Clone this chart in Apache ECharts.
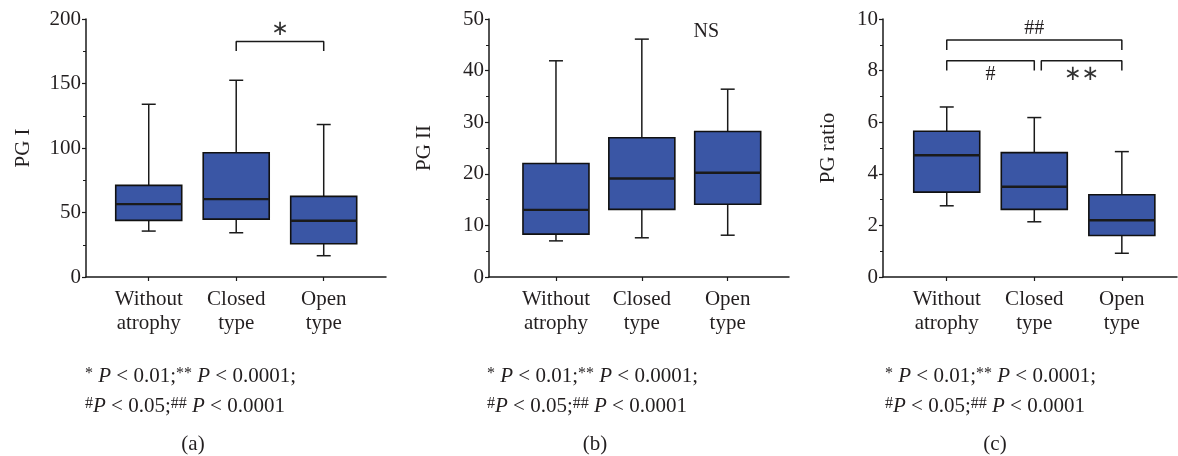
<!DOCTYPE html>
<html>
<head>
<meta charset="utf-8">
<script src="https://cdn.jsdelivr.net/npm/echarts@6/dist/echarts.min.js"></script>
<style>html,body{margin:0;padding:0;background:#fff}#c{width:1178px;height:456px}</style>
</head>
<body>
<div id="c"></div>
<script>
// ---- data ----
const categories = ['Without\natrophy', 'Closed\ntype', 'Open\ntype'];
const catPos = [1, 2, 3];
// [min, Q1, median, Q3, max]
const pgI = [[35.6, 43.9, 56.5, 71.0, 133.9], [34.3, 44.9, 60.4, 96.3, 152.5], [16.5, 25.8, 43.6, 62.5, 118.2]];
const pgII = [[7.0, 8.3, 13.0, 22.0, 41.9], [7.6, 13.1, 19.1, 27.0, 46.1], [8.1, 14.1, 20.2, 28.2, 36.4]];
const pgRatio = [[2.76, 3.29, 4.72, 5.65, 6.59], [2.14, 2.62, 3.50, 4.82, 6.18], [0.92, 1.61, 2.20, 3.19, 4.86]];
const yTicksA = {min: 0, max: 200, interval: 50};
const yTicksB = {min: 0, max: 50, interval: 10};
const yTicksC = {min: 0, max: 10, interval: 2};
// significance brackets: [xStart, xEnd, yTop, yLegBottom]
const bracketsA = [[2, 3, 182.6, 175.2]];
const bracketsC = [[1, 3, 9.19, 8.80], [1, 2, 8.38, 8.00], [2.08, 3, 8.38, 8.00]];
// annotation texts: [x, y, text]
const notesA = [[2.5, 191.5, '∗']];
const notesB = [[2.75, 47.5, 'NS']];
const notesC = [[2.0, 9.61, '##'], [1.5, 7.83, '#'], [2.54, 7.83, '∗∗']];
const panelLetters = ['(a)', '(b)', '(c)'];

// ---- styles ----
const FONT = 'Liberation Serif';
const TXT = '#231f20';
const BOX_FILL = '#3a56a5';
const BOX_W = 66, CAP_W = 14;

const grids = [
  {left: 86, top: 19, width: 300, height: 258},
  {left: 489, top: 19, width: 300, height: 258},
  {left: 883, top: 19, width: 294, height: 258}
];
const xRanges = [[0.283, 3.712], [0.22, 3.714], [0.272, 3.63]];
const yCfg = [yTicksA, yTicksB, yTicksC];
const yNames = ['PG I', 'PG II', 'PG ratio'];
const nameGaps = [52, 54, 44];
const datasets = [pgI, pgII, pgRatio];

function boxRender(params, api) {
  const x = api.value(0);
  const c = [1, 2, 3, 4, 5].map(i => api.coord([x, api.value(i)]));
  const cx = c[0][0];
  const ln = (x1, y1, x2, y2, w) => ({type: 'line', shape: {x1, y1, x2, y2}, style: {stroke: '#1a1a1a', lineWidth: w || 1.5}});
  return {
    type: 'group',
    children: [
      ln(cx, c[4][1], cx, c[3][1]),
      ln(cx, c[0][1], cx, c[1][1]),
      ln(cx - CAP_W / 2, c[4][1], cx + CAP_W / 2, c[4][1]),
      ln(cx - CAP_W / 2, c[0][1], cx + CAP_W / 2, c[0][1]),
      {type: 'rect', shape: {x: cx - BOX_W / 2, y: c[3][1], width: BOX_W, height: c[1][1] - c[3][1]},
        style: {fill: BOX_FILL, stroke: '#111', lineWidth: 1.6}},
      ln(cx - BOX_W / 2, c[2][1], cx + BOX_W / 2, c[2][1], 2.4)
    ]
  };
}

const xAxis = [], yAxis = [], series = [];
grids.forEach((g, i) => {
  xAxis.push({
    gridIndex: i, type: 'value', min: xRanges[i][0], max: xRanges[i][1],
    axisLine: {show: true, lineStyle: {color: '#1a1a1a', width: 1.5}},
    axisTick: {show: true, customValues: catPos, length: 4, lineStyle: {color: '#1a1a1a', width: 1.2}},
    axisLabel: {show: true, customValues: catPos, formatter: v => categories[Math.round(v) - 1] || '',
      fontFamily: FONT, fontSize: 21, color: TXT, lineHeight: 24, margin: 10},
    splitLine: {show: false}
  });
  yAxis.push({
    gridIndex: i, type: 'value', min: yCfg[i].min, max: yCfg[i].max, interval: yCfg[i].interval,
    name: yNames[i], nameLocation: 'middle', nameGap: nameGaps[i],
    nameTextStyle: {fontFamily: FONT, fontSize: 21, color: TXT},
    axisLine: {show: true, lineStyle: {color: '#1a1a1a', width: 1.5}},
    axisTick: {show: true, length: 4, lineStyle: {color: '#1a1a1a', width: 1.2}},
    minorTick: {show: true, splitNumber: 2, length: 3, lineStyle: {color: '#1a1a1a', width: 1}},
    axisLabel: {fontFamily: FONT, fontSize: 21, color: TXT, margin: 5},
    splitLine: {show: false}
  });
  series.push({
    type: 'custom', xAxisIndex: i, yAxisIndex: i, renderItem: boxRender,
    encode: {x: 0, y: [1, 2, 3, 4, 5]},
    data: datasets[i].map((d, k) => [catPos[k]].concat(d)), silent: true
  });
});

function addBrackets(list, gi) {
  list.forEach(b => {
    series.push({
      type: 'line', xAxisIndex: gi, yAxisIndex: gi, symbol: 'none', silent: true, animation: false,
      lineStyle: {color: '#1a1a1a', width: 1.5},
      data: [[b[0], b[3]], [b[0], b[2]], [b[1], b[2]], [b[1], b[3]]]
    });
  });
}
addBrackets(bracketsA, 0);
addBrackets(bracketsC, 2);

function addNotes(list, gi) {
  const texts = list.map(n => n[2]);
  series.push({
    type: 'custom', xAxisIndex: gi, yAxisIndex: gi, silent: true,
    renderItem: (params, api) => {
      const p = api.coord([api.value(0), api.value(1)]);
      const t = texts[params.dataIndex];
      const star = t.indexOf('∗') >= 0;
      return {type: 'text', x: p[0], y: p[1],
        style: {text: t, fontFamily: star ? 'DejaVu Sans' : FONT,
          fontSize: star ? 21 : 20, fill: star ? '#333' : TXT, align: 'center', verticalAlign: 'middle'}};
    },
    data: list.map(n => [n[0], n[1]])
  });
}
addNotes(notesA, 0);
addNotes(notesB, 1);
addNotes(notesC, 2);

// footnotes and panel letters
const rich = {
  n: {fontFamily: FONT, fontSize: 21, fill: TXT},
  i: {fontFamily: FONT, fontSize: 21, fontStyle: 'italic', fill: TXT},
  s: {fontFamily: FONT, fontSize: 16, fill: TXT, verticalAlign: 'top'}
};
const footLeft = [85, 487, 885];
const letterX = [193, 595, 995];
const graphic = [];
footLeft.forEach((fx, i) => {
  graphic.push({type: 'text', x: fx, y: 376, style: {text: '{s|*}{n| }{i|P}{n| < 0.01;}{s|**}{n| }{i|P}{n| < 0.0001;}', rich, verticalAlign: 'middle', align: 'left'}});
  graphic.push({type: 'text', x: fx, y: 406, style: {text: '{s|#}{i|P}{n| < 0.05;}{s|##}{n| }{i|P}{n| < 0.0001}', rich, verticalAlign: 'middle', align: 'left'}});
  graphic.push({type: 'text', x: letterX[i], y: 444, style: {text: panelLetters[i], fontFamily: FONT, fontSize: 21, fill: TXT, align: 'center', verticalAlign: 'middle'}});
});

const chart = echarts.init(document.getElementById('c'), null, {renderer: 'canvas'});
chart.setOption({
  animation: false,
  backgroundColor: '#fff',
  grid: grids,
  xAxis, yAxis, series, graphic
});
</script>
</body>
</html>
